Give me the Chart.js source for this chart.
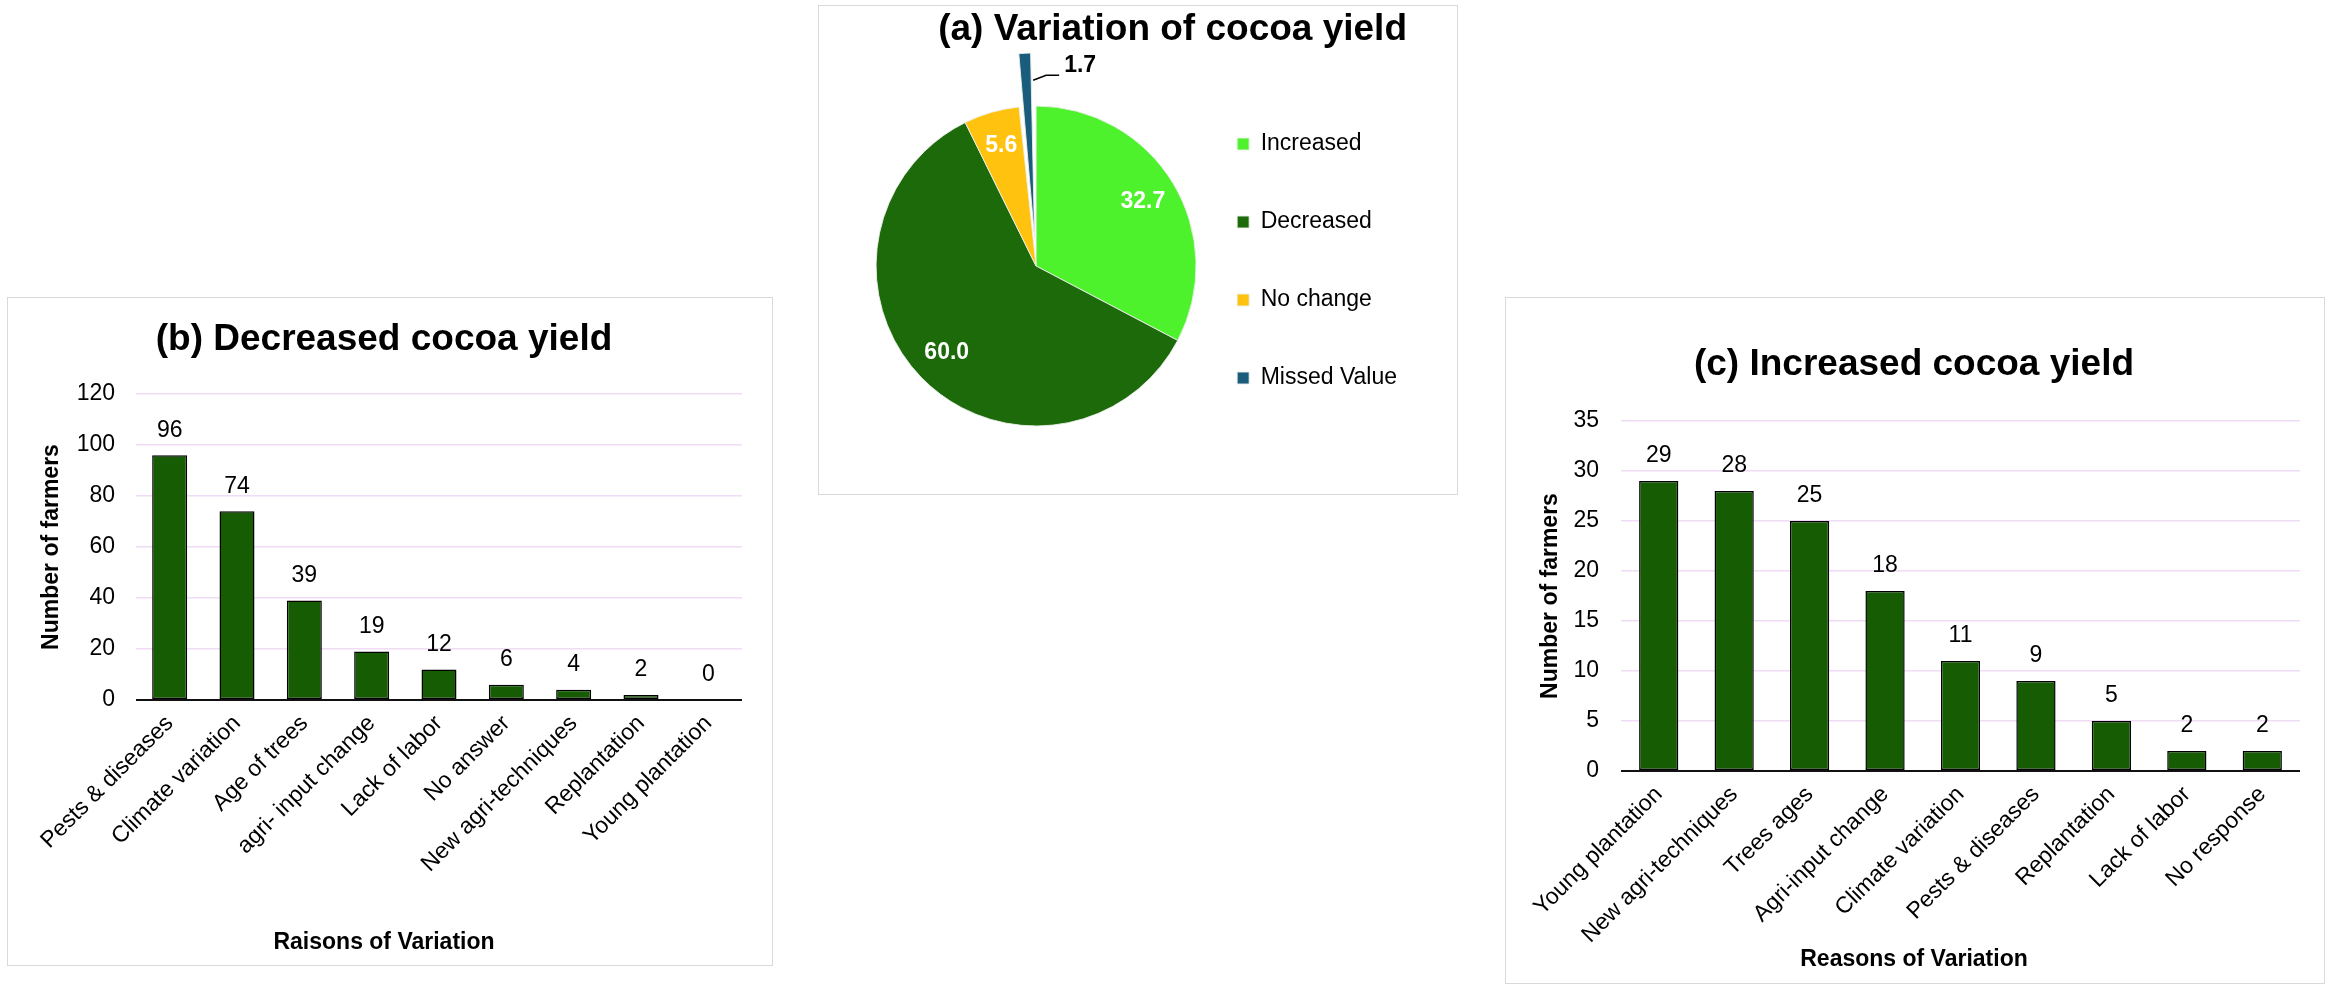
<!DOCTYPE html>
<html><head><meta charset="utf-8">
<script src="https://cdn.jsdelivr.net/npm/chart.js@4.4.1/dist/chart.umd.min.js"></script>
<style>
html,body{margin:0;padding:0;background:#fff;width:2330px;height:986px;overflow:hidden;}
.panel{position:absolute;box-sizing:border-box;border:1px solid #d9d9d9;background:#fff;}
.panel canvas{display:block;}
</style></head><body>
<div class="panel" style="left:818px;top:5px;width:640px;height:490px;"><canvas id="ca" width="638" height="488"></canvas></div>
<div class="panel" style="left:7px;top:297px;width:766px;height:669px;"><canvas id="cb" width="764" height="667"></canvas></div>
<div class="panel" style="left:1505px;top:297px;width:820px;height:687px;"><canvas id="cc" width="818" height="685"></canvas></div>
<script>
// ---- data ----
const pieLabels = ['Increased', 'Decreased', 'No change', 'Missed Value'];
const pieValues = [32.7, 60.0, 5.6, 1.7];
const pieColors = ['#4ef22c', '#1d6a0b', '#ffc30f', '#1a5c7c'];
const pieExplode = [0, 0, 0, 112];

const decLabels = ['Pests & diseases', 'Climate variation', 'Age of trees', 'agri- input change', 'Lack of labor', 'No answer', 'New agri-techniques', 'Replantation', 'Young plantation'];
const decValues = [96, 74, 39, 19, 12, 6, 4, 2, 0];
const decTicks = [0, 20, 40, 60, 80, 100, 120];

const incLabels = ['Young plantation', 'New agri-techniques', 'Trees ages', 'Agri-input change', 'Climate variation', 'Pests & diseases', 'Replantation', 'Lack of labor', 'No response'];
const incValues = [29, 28, 25, 18, 11, 9, 5, 2, 2];
const incTicks = [0, 5, 10, 15, 20, 25, 30, 35];

const FONT = '"Liberation Sans", Arial, sans-serif';
Chart.defaults.font.family = FONT;
Chart.defaults.color = '#000';

const barLabelPlugin = {
  id: 'barLabels',
  afterDatasetsDraw(chart) {
    const ctx = chart.ctx;
    const meta = chart.getDatasetMeta(0);
    const vals = chart.data.datasets[0].data;
    ctx.save();
    ctx.font = '23px ' + FONT;
    ctx.fillStyle = '#000';
    ctx.textAlign = 'center';
    ctx.textBaseline = 'middle';
    meta.data.forEach((bar, i) => ctx.fillText(String(vals[i]), bar.x, bar.y - 25));
    ctx.restore();
  }
};

const pieLabelPlugin = {
  id: 'pieLabels',
  afterDatasetsDraw(chart) {
    const ctx = chart.ctx;
    const meta = chart.getDatasetMeta(0);
    const vals = chart.data.datasets[0].data;
    ctx.save();
    ctx.font = 'bold 23px ' + FONT;
    ctx.textBaseline = 'middle';
    meta.data.forEach((arc, i) => {
      const p = arc.getProps(['x', 'y', 'startAngle', 'endAngle', 'outerRadius']);
      const mid = (p.startAngle + p.endAngle) / 2;
      const off = arc.options.offset || 0;
      const txt = vals[i].toFixed(1);
      if (off > 0) {
        const circ = p.endAngle - p.startAngle;
        const tipR = p.outerRadius + off / 4 + (off / 4) * (1 - Math.sin(Math.min(Math.PI, circ)));
        const r = tipR - 27;
        const ax = p.x + Math.cos(mid) * r + 7, ay = p.y + Math.sin(mid) * r;
        ctx.strokeStyle = '#000'; ctx.lineWidth = 1.5;
        ctx.beginPath(); ctx.moveTo(ax, ay); ctx.lineTo(ax + 13, ay - 5); ctx.lineTo(ax + 26, ay - 5); ctx.stroke();
        ctx.fillStyle = '#000'; ctx.textAlign = 'left';
        ctx.fillText(txt, ax + 31, ay - 15);
      } else {
        const r = p.outerRadius * 0.78;
        ctx.fillStyle = '#fff'; ctx.textAlign = 'center';
        ctx.fillText(txt, p.x + Math.cos(mid) * r, p.y + Math.sin(mid) * r);
      }
    });
    ctx.restore();
  }
};

new Chart(document.getElementById('ca'), {
  type: 'pie',
  data: { labels: pieLabels, datasets: [{ data: pieValues, backgroundColor: pieColors, borderColor: 'rgba(235,240,235,0.9)', borderWidth: 1, offset: pieExplode, radius: 160, clip: false }] },
  options: {
    responsive: false, animation: false, devicePixelRatio: 1,
    layout: { padding: { left: 71, right: 50, top: 0, bottom: 49.5 } },
    plugins: {
      title: { display: true, text: '(a) Variation of cocoa yield', align: 'end', color: '#000', font: { size: 37, weight: 'bold' }, padding: { top: 1.8, bottom: 35.3 } },
      legend: { position: 'right', align: 'end', labels: { boxWidth: 12, boxHeight: 12, padding: 55, color: '#000', font: { size: 23 } } },
      tooltip: { enabled: false }
    }
  },
  plugins: [pieLabelPlugin]
});

function barChart(id, labels, values, ticks, o) {
  const zeroOr = (c, a, b) => (c.tick && c.tick.value === 0 ? a : b);
  return new Chart(document.getElementById(id), {
    type: 'bar',
    data: { labels: labels, datasets: [{ data: values, backgroundColor: '#155c03', borderColor: '#000', borderWidth: 1.5, borderSkipped: false, barPercentage: 0.52, categoryPercentage: 1 }] },
    options: {
      responsive: false, animation: false, devicePixelRatio: 1,
      layout: { padding: { left: o.lp, right: o.rp, top: 0, bottom: 0 } },
      plugins: {
        legend: { display: false }, tooltip: { enabled: false },
        title: { display: true, text: o.title, color: '#000', font: { size: 37, weight: 'bold' }, padding: { top: o.tpt, bottom: o.tpb } },
        subtitle: { display: true, position: 'bottom', text: o.xtitle, color: '#000', font: { size: 23, weight: 'bold' }, padding: { top: o.spt, bottom: o.spb } }
      },
      scales: {
        x: {
          grid: { display: false, drawTicks: false }, border: { display: false },
          ticks: { font: { size: 23 }, color: '#000', minRotation: 45, maxRotation: 45, padding: 10, autoSkip: false },
          afterFit: s => { s.height = o.xh; }
        },
        y: {
          min: ticks[0], max: ticks[ticks.length - 1],
          ticks: { stepSize: ticks[1] - ticks[0], font: { size: 23 }, color: '#000', padding: o.ypad },
          grid: { drawTicks: false, color: c => zeroOr(c, '#111', '#f0dcf5'), lineWidth: c => zeroOr(c, 2, 1.5) },
          border: { display: false },
          title: { display: true, text: 'Number of farmers', color: '#000', font: { size: 23, weight: 'bold' }, padding: { top: o.ytp, bottom: 0 } },
          afterFit: s => { s.width = o.yw; }
        }
      }
    },
    plugins: [barLabelPlugin]
  });
}

barChart('cb', decLabels, decValues, decTicks, {
  title: '(b) Decreased cocoa yield', xtitle: 'Raisons of Variation',
  lp: 18, rp: 30, yw: 110, ytp: 12, ypad: 21, tpt: 19.8, tpb: 31.8, xh: 200, spt: 29.2, spb: 8.2
});
barChart('cc', incLabels, incValues, incTicks, {
  title: '(c) Increased cocoa yield', xtitle: 'Reasons of Variation',
  lp: 22, rp: 24, yw: 93, ytp: 9, ypad: 22, tpt: 44.8, tpb: 33.8, xh: 186, spt: -10.8, spb: 9.2
});
</script>
</body></html>
